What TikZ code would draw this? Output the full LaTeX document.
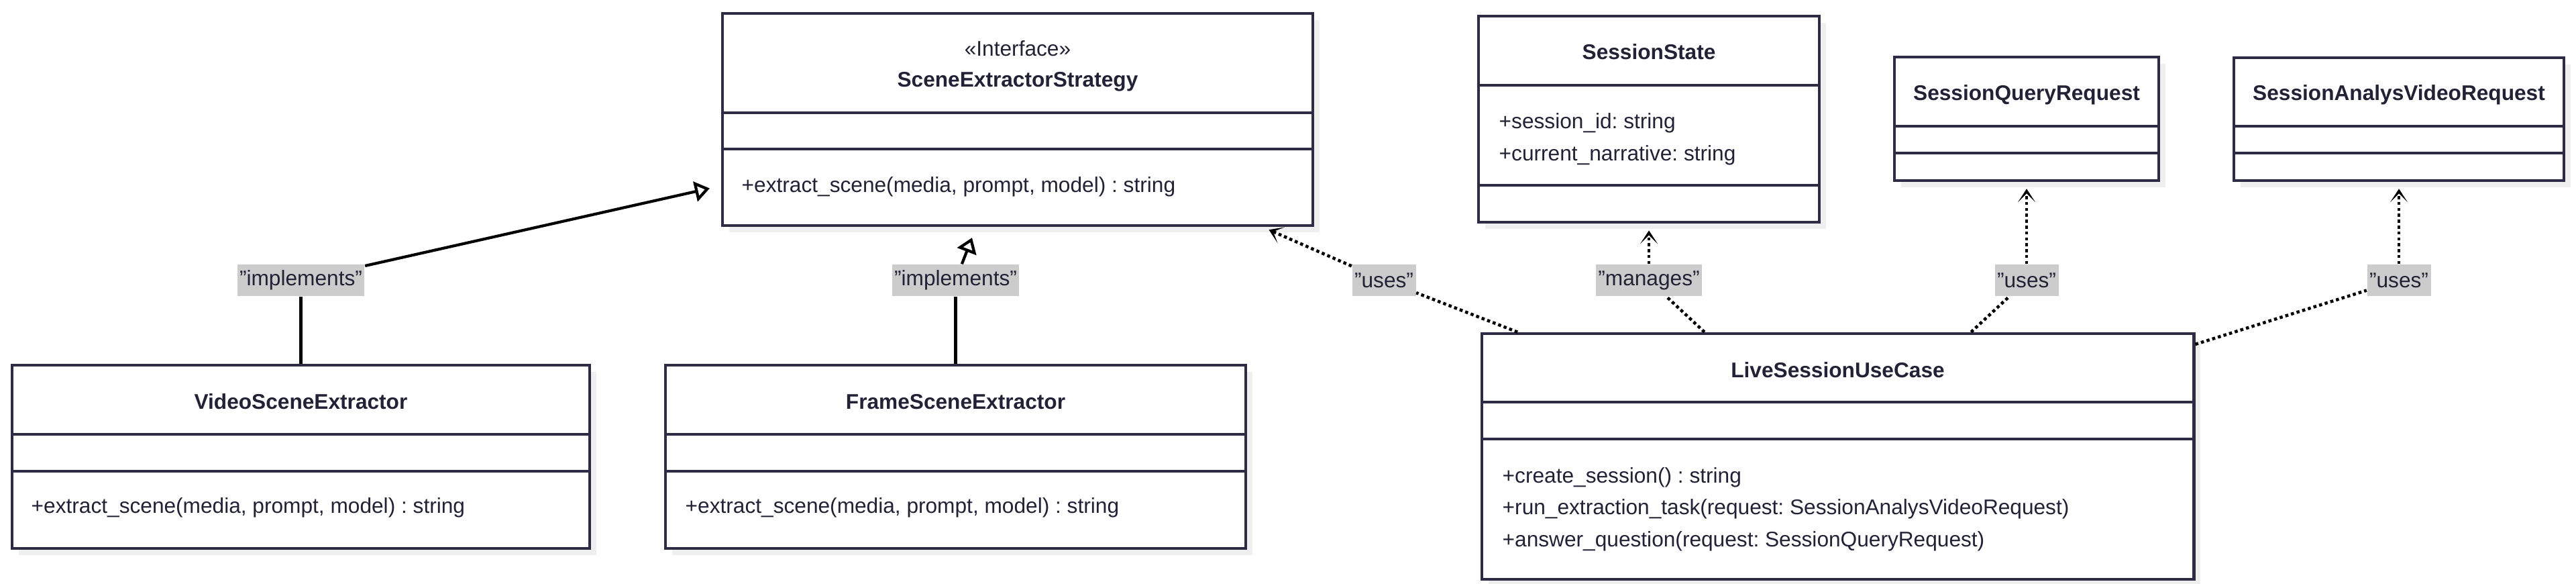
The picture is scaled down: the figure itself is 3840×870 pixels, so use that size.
\documentclass[tikz,border=0pt]{standalone}
\usepackage{fontspec}
\setmainfont{Liberation Sans}
\usetikzlibrary{arrows.meta,shadows}

\definecolor{boxline}{HTML}{2D2C44}
\definecolor{ink}{HTML}{222236}
\definecolor{lblgrey}{HTML}{CCCCCC}
\definecolor{shade}{HTML}{EFEFEF}

\frenchspacing

\begin{document}
\begin{tikzpicture}[x=0.01cm,y=-0.01cm,
  font=\fontsize{9}{11}\selectfont,
  classbox/.style={draw=boxline, line width=1.25pt, fill=white, inner sep=0pt,
    drop shadow={shadow xshift=0.1cm, shadow yshift=-0.1cm, fill=shade, opacity=1}},
  cname/.style={font=\fontsize{9}{11}\selectfont\bfseries, text=ink, inner sep=0pt,
    text height=0.72em, text depth=0.2em},
  member/.style={anchor=west, text=ink, inner sep=0pt, text height=0.72em, text depth=0.2em},
  divider/.style={draw=boxline, line width=1.25pt},
  lbl/.style={fill=lblgrey, text=ink, inner xsep=1pt, inner ysep=0pt, minimum height=0.47cm},
  solidline/.style={draw=black, line width=1.2pt},
  realize/.style={solidline, shorten >=0.17cm, -{Triangle[open, length=0.22cm, width=0.3cm]}},
  dotline/.style={draw=black, line width=1.3pt, dash pattern=on 1.3pt off 1.2pt},
  dep/.style={dotline, shorten >=0.1cm, -{Stealth[length=0.2cm, width=0.26cm, inset=0.13cm]}}
]
  \useasboundingbox (0,0) rectangle (3840,870);

  % classes
  \node[classbox, minimum width=8.8cm, minimum height=3.16cm] (strat) at (1517,178) {};
  \node[classbox, minimum width=5.08cm, minimum height=3.07cm] (sstate) at (2458,177.5) {};
  \node[classbox, minimum width=3.94cm, minimum height=1.84cm] (qreq) at (3021,177) {};
  \node[classbox, minimum width=4.92cm, minimum height=1.83cm] (areq) at (3576,177.5) {};
  \node[classbox, minimum width=8.61cm, minimum height=2.73cm] (video) at (448.5,680.5) {};
  \node[classbox, minimum width=8.65cm, minimum height=2.73cm] (frame) at (1424.5,680.5) {};
  \node[classbox, minimum width=10.61cm, minimum height=3.66cm] (live) at (2739.5,680) {};

  % compartments
  \draw[divider] (strat.west |- 0,168) -- (strat.east |- 0,168);
  \draw[divider] (strat.west |- 0,222) -- (strat.east |- 0,222);
  \draw[divider] (sstate.west |- 0,127) -- (sstate.east |- 0,127);
  \draw[divider] (sstate.west |- 0,276) -- (sstate.east |- 0,276);
  \draw[divider] (qreq.west |- 0,188) -- (qreq.east |- 0,188);
  \draw[divider] (qreq.west |- 0,228) -- (qreq.east |- 0,228);
  \draw[divider] (areq.west |- 0,188) -- (areq.east |- 0,188);
  \draw[divider] (areq.west |- 0,228) -- (areq.east |- 0,228);
  \draw[divider] (video.west |- 0,647) -- (video.east |- 0,647);
  \draw[divider] (video.west |- 0,702) -- (video.east |- 0,702);
  \draw[divider] (frame.west |- 0,647) -- (frame.east |- 0,647);
  \draw[divider] (frame.west |- 0,702) -- (frame.east |- 0,702);
  \draw[divider] (live.west |- 0,599) -- (live.east |- 0,599);
  \draw[divider] (live.west |- 0,654) -- (live.east |- 0,654);

  % texts
  \node[member, anchor=center] (strat-st) at (1517,74) {«Interface»};
  \node[cname] (strat-name) at (1517,120) {SceneExtractorStrategy};
  \node[member] (strat-op) at (1105,277) {+extract\_scene(media, prompt, model) : string};

  \node[cname] (sstate-name) at (2458,79) {SessionState};
  \node[member] (sstate-a1) at (2234,182) {+session\_id: string};
  \node[member] (sstate-a2) at (2234,230) {+current\_narrative: string};

  \node[cname] (qreq-name) at (3021,140) {SessionQueryRequest};
  \node[cname] (areq-name) at (3576,140) {SessionAnalysVideoRequest};

  \node[cname] (video-name) at (448.5,600) {VideoSceneExtractor};
  \node[member] (video-op) at (46,755) {+extract\_scene(media, prompt, model) : string};

  \node[cname] (frame-name) at (1424.5,600) {FrameSceneExtractor};
  \node[member] (frame-op) at (1021,755) {+extract\_scene(media, prompt, model) : string};

  \node[cname] (live-name) at (2739.5,553) {LiveSessionUseCase};
  \node[member] (live-op1) at (2239,710) {+create\_session() : string};
  \node[member] (live-op2) at (2239,757) {+run\_extraction\_task(request: SessionAnalysVideoRequest)};
  \node[member] (live-op3) at (2239,805) {+answer\_question(request: SessionQueryRequest)};

  % edge labels
  \node[lbl] (impl1) at (448.5,417.5) {"implements"};
  \node[lbl] (impl2) at (1424.5,417.5) {"implements"};
  \node[lbl] (uses1) at (2063,417.5) {"uses"};
  \node[lbl] (manages) at (2458,417.5) {"manages"};
  \node[lbl] (uses2) at (3021,417.5) {"uses"};
  \node[lbl] (uses3) at (3576,417.5) {"uses"};

  % relations
  \draw[solidline] (video) -- (impl1);
  \draw[realize] (impl1) -- (strat);
  \draw[solidline] (frame) -- (impl2);
  \draw[realize] (impl2) -- (strat);

  \draw[dotline] (live) -- (uses1);
  \draw[dep] (uses1) -- (strat);
  \draw[dotline] (live) -- (manages);
  \draw[dep] (manages) -- (sstate);
  \draw[dotline] (live) -- (uses2);
  \draw[dep] (uses2) -- (qreq);
  \draw[dotline] (live) -- (uses3);
  \draw[dep] (uses3) -- (areq);

\end{tikzpicture}
\end{document}
